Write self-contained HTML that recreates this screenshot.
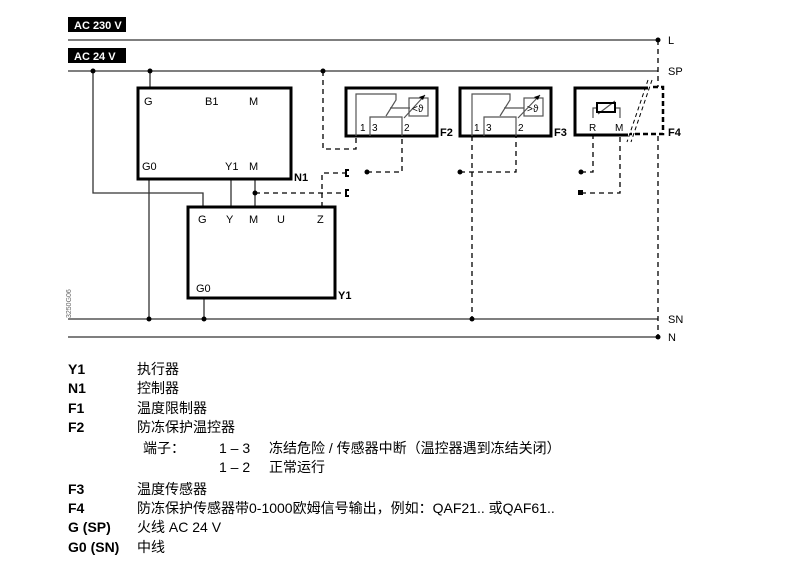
<!DOCTYPE html>
<html><head><meta charset="utf-8"><style>
body{margin:0;background:#fff;width:786px;height:566px;overflow:hidden}
svg{position:absolute;left:0;top:0}
text{font-family:"Liberation Sans","Noto Sans CJK SC",sans-serif;fill:#000}
</style></head><body>
<svg width="786" height="566" xmlns="http://www.w3.org/2000/svg">
<g stroke="#333" stroke-width="1.3" fill="none">
<line x1="68" y1="40" x2="658" y2="40"/>
<line x1="68" y1="71" x2="658" y2="71"/>
<line x1="68" y1="319" x2="658" y2="319"/>
<line x1="68" y1="337" x2="658" y2="337"/>
<line x1="150" y1="71" x2="150" y2="88"/>
<polyline points="93,71 93,193 203,193 203,207"/>
<line x1="231" y1="179" x2="231" y2="207"/>
<line x1="255" y1="179" x2="255" y2="207"/>
<line x1="149" y1="179" x2="149" y2="319"/>
<line x1="204" y1="298" x2="204" y2="319"/>
</g>
<g stroke="#000" stroke-width="3" fill="none">
<rect x="138" y="88" width="153" height="91"/>
<rect x="188" y="207" width="147" height="91"/>
<rect x="346" y="88" width="91" height="48"/>
<rect x="460" y="88" width="91" height="48"/>
<polyline points="648,88 575,88 575,135 628,135"/>
</g>
<g stroke="#000" stroke-width="1.3" stroke-dasharray="5,4" fill="none">
<polyline points="323,71 323,149 356,149 356,136"/>
<polyline points="255,193 345,193"/>
<polyline points="322,207 322,173 345,173"/>
<polyline points="367,172 402,172 402,136"/>
<polyline points="472,136 472,319"/>
<polyline points="460,172 516,172 516,136"/>
<polyline points="581,172 593,172 593,136"/>
<polyline points="581,193 620,193 620,136"/>
<polyline points="658,40 658,87"/>
<polyline points="658,136 658,337"/>
</g>
<g stroke="#000" stroke-width="2.5" stroke-dasharray="5,3" fill="none">
<polyline points="653,87 663,87 663,134 630,134"/>
</g>
<g stroke="#000" stroke-width="1" stroke-dasharray="4,3" fill="none">
<line x1="648" y1="80" x2="627" y2="142"/>
<line x1="652" y1="80" x2="631" y2="142"/>
</g>
<g stroke="#000" stroke-width="2" fill="none">
<path d="M349,170 h-3 v6 h3"/>
<path d="M349,190 h-3 v6 h3"/>
</g>
<g fill="#000">
<circle cx="150" cy="71" r="2.5"/><circle cx="93" cy="71" r="2.5"/><circle cx="323" cy="71" r="2.5"/>
<circle cx="255" cy="193" r="2.5"/><circle cx="367" cy="172" r="2.5"/><circle cx="460" cy="172" r="2.5"/>
<circle cx="581" cy="172" r="2.5"/><rect x="578" y="190" width="5" height="5"/>
<circle cx="658" cy="40" r="2.5"/><circle cx="149" cy="319" r="2.5"/><circle cx="204" cy="319" r="2.5"/>
<circle cx="472" cy="319" r="2.5"/><circle cx="658" cy="337" r="2.5"/>
</g>
<g stroke="#555" stroke-width="1.2" fill="none">
<polyline points="356,136 356,94 396,94 396,100 386,116"/>
<polyline points="370,136 370,117 402,117 402,136"/>
<line x1="390" y1="108" x2="410" y2="108"/>
<rect x="409" y="98" width="19" height="18"/>
<line x1="404" y1="118" x2="425" y2="95"/>
<polyline points="472,136 472,94 510,94 510,100 500,116"/>
<polyline points="484,136 484,117 516,117 516,136"/>
<line x1="504" y1="108" x2="524" y2="108"/>
<rect x="524" y="98" width="19" height="18"/>
<line x1="518" y1="118" x2="540" y2="95"/>
<polyline points="593,118 593,108 598,108"/>
<polyline points="620,118 620,108 615,108"/>
<line x1="598" y1="114" x2="615" y2="101"/>
</g>
<rect x="597" y="103" width="18" height="9" fill="none" stroke="#000" stroke-width="2"/>
<polygon points="425,95 419,97 423,100" fill="#000"/>
<polygon points="540,95 534,97 538,100" fill="#000"/>
<g font-size="10">
<text x="412" y="112">&lt;&#977;</text><text x="527" y="112">&gt;&#977;</text>
<text x="360" y="131">1</text><text x="372" y="131">3</text><text x="404" y="131">2</text>
<text x="474" y="131">1</text><text x="486" y="131">3</text><text x="518" y="131">2</text>
<text x="589" y="131">R</text><text x="615" y="131">M</text>
</g>
<g font-size="11">
<text x="144" y="105">G</text><text x="205" y="105">B1</text><text x="249" y="105">M</text>
<text x="142" y="170">G0</text><text x="225" y="170">Y1</text><text x="249" y="170">M</text>
<text x="198" y="223">G</text><text x="226" y="223">Y</text><text x="249" y="223">M</text><text x="277" y="223">U</text><text x="317" y="223">Z</text>
<text x="196" y="292">G0</text>
<text x="668" y="44">L</text><text x="668" y="75">SP</text><text x="668" y="323">SN</text><text x="668" y="341">N</text>
</g>
<g font-size="11" font-weight="bold">
<text x="294" y="181">N1</text><text x="338" y="299">Y1</text>
<text x="440" y="136">F2</text><text x="554" y="136">F3</text><text x="668" y="136">F4</text>
</g>
<rect x="68" y="17" width="58" height="15" fill="#000"/>
<rect x="68" y="48" width="58" height="15" fill="#000"/>
<text x="74" y="29" font-size="11" font-weight="bold" style="fill:#fff">AC 230 V</text>
<text x="74" y="60" font-size="11" font-weight="bold" style="fill:#fff">AC 24 V</text>
<text transform="translate(71,318) rotate(-90)" font-size="7" style="fill:#666">3250G06</text>
<g font-size="14">
<g font-weight="bold">
<text x="68" y="374">Y1</text><text x="68" y="393">N1</text><text x="68" y="413">F1</text><text x="68" y="432">F2</text>
<text x="68" y="494">F3</text><text x="68" y="513">F4</text><text x="68" y="532">G (SP)</text><text x="68" y="552">G0 (SN)</text>
</g>
<text x="137" y="374">执行器</text><text x="137" y="393">控制器</text><text x="137" y="413">温度限制器</text><text x="137" y="432">防冻保护温控器</text>
<text x="143" y="453">端子：</text><text x="219" y="453">1 – 3</text><text x="269" y="453">冻结危险 / 传感器中断（温控器遇到冻结关闭）</text>
<text x="219" y="472">1 – 2</text><text x="269" y="472">正常运行</text>
<text x="137" y="494">温度传感器</text>
<text x="137" y="513">防冻保护传感器带0-1000欧姆信号输出，例如：QAF21.. 或QAF61..</text>
<text x="137" y="532">火线 AC 24 V</text><text x="137" y="552">中线</text>
</g>
</svg>
</body></html>
